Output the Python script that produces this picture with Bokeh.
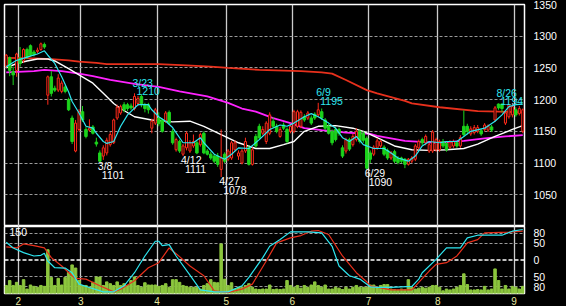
from bokeh.plotting import figure
from bokeh.layouts import column
from bokeh.models import ColumnDataSource, FixedTicker, Range1d, Span, Label
from bokeh.embed import file_html
from bokeh.resources import INLINE
from bokeh.core.properties import value

# ---------------- data ----------------
opens = [1253, 1266, 1244, 1246, 1265, 1262, 1279, 1285, 1275, 1276,
         1279, 1287, 1207, 1236, 1218, 1215, 1213, 1220, 1200, 1171,
         1119, 1153, 1181, 1153, 1152, 1157, 1133, 1116, 1111, 1116,
         1129, 1132, 1171, 1179, 1192, 1192, 1190, 1186, 1194, 1205,
         1192, 1192, 1155, 1163, 1171, 1168, 1166, 1180, 1150, 1121,
         1134, 1114, 1124, 1119, 1127, 1132, 1129, 1147, 1119, 1114,
         1111, 1111, 1090, 1114, 1106, 1108, 1121, 1111, 1100, 1119,
         1124, 1098, 1142, 1158, 1147, 1134, 1147, 1166, 1158, 1142,
         1160, 1153, 1150, 1150, 1158, 1158, 1173, 1171, 1171, 1177,
         1176, 1181, 1168, 1158, 1150, 1153, 1153, 1124, 1119, 1137,
         1129, 1137, 1150, 1147, 1139, 1116, 1114, 1124, 1127, 1125,
         1120, 1108, 1118, 1108, 1108, 1106, 1098, 1103, 1106, 1124,
         1137, 1132, 1119, 1119, 1121, 1121, 1134, 1131, 1125, 1127,
         1132, 1127, 1158, 1158, 1146, 1148, 1150, 1151, 1153, 1152,
         1157, 1168, 1193, 1193, 1163, 1173, 1176, 1184, 1178, 1150]
closes = [1270, 1246, 1239, 1272, 1257, 1279, 1267, 1270, 1271, 1278,
          1288, 1283, 1236, 1210, 1215, 1234, 1226, 1213, 1184, 1134,
          1163, 1181, 1168, 1142, 1155, 1147, 1130, 1103, 1124, 1136,
          1145, 1168, 1188, 1189, 1184, 1186, 1187, 1205, 1202, 1192,
          1186, 1184, 1166, 1184, 1162, 1150, 1179, 1163, 1132, 1137,
          1119, 1127, 1147, 1132, 1134, 1116, 1145, 1116, 1114, 1108,
          1103, 1098, 1108, 1103, 1119, 1132, 1132, 1116, 1119, 1134,
          1098, 1121, 1127, 1140, 1153, 1163, 1176, 1158, 1150, 1153,
          1155, 1134, 1158, 1181, 1181, 1180, 1168, 1179, 1163, 1171,
          1184, 1171, 1155, 1147, 1132, 1137, 1147, 1111, 1137, 1122,
          1142, 1150, 1134, 1136, 1092, 1106, 1125, 1135, 1134, 1114,
          1108, 1116, 1103, 1101, 1103, 1098, 1106, 1108, 1127, 1134,
          1132, 1142, 1129, 1149, 1137, 1134, 1127, 1121, 1133, 1134,
          1127, 1140, 1145, 1150, 1154, 1156, 1156, 1146, 1160, 1158,
          1152, 1187, 1187, 1186, 1179, 1192, 1189, 1176, 1186, 1184]
highs = [1272, 1268, 1252, 1274, 1283, 1281, 1282, 1287, 1278, 1282,
         1290, 1290, 1238, 1245, 1222, 1240, 1230, 1223, 1203, 1175,
         1168, 1185, 1190, 1157, 1169, 1160, 1140, 1120, 1128, 1140,
         1149, 1170, 1192, 1192, 1196, 1195, 1194, 1210, 1206, 1208,
         1195, 1195, 1170, 1187, 1180, 1170, 1182, 1183, 1154, 1140,
         1137, 1130, 1150, 1136, 1145, 1135, 1148, 1150, 1122, 1118,
         1114, 1116, 1153, 1117, 1122, 1135, 1136, 1120, 1122, 1140,
         1128, 1125, 1146, 1162, 1158, 1166, 1180, 1172, 1162, 1157,
         1164, 1156, 1162, 1184, 1184, 1183, 1177, 1182, 1175, 1180,
         1195, 1186, 1171, 1162, 1153, 1157, 1156, 1128, 1140, 1140,
         1146, 1155, 1153, 1150, 1142, 1120, 1128, 1139, 1137, 1128,
         1123, 1119, 1121, 1111, 1110, 1108, 1108, 1111, 1130, 1137,
         1140, 1145, 1132, 1152, 1140, 1137, 1138, 1134, 1136, 1137,
         1135, 1144, 1183, 1162, 1158, 1160, 1160, 1154, 1163, 1161,
         1160, 1190, 1194, 1194, 1182, 1193, 1194, 1188, 1190, 1186]
lows = [1250, 1237, 1223, 1236, 1252, 1258, 1264, 1268, 1268, 1273,
        1277, 1280, 1192, 1205, 1212, 1212, 1210, 1210, 1182, 1130,
        1117, 1150, 1165, 1139, 1150, 1145, 1126, 1101, 1105, 1112,
        1126, 1130, 1168, 1176, 1180, 1182, 1184, 1183, 1190, 1188,
        1180, 1178, 1147, 1160, 1158, 1148, 1163, 1160, 1129, 1118,
        1116, 1111, 1120, 1116, 1124, 1114, 1126, 1114, 1112, 1105,
        1100, 1094, 1078, 1100, 1103, 1105, 1118, 1105, 1098, 1116,
        1096, 1096, 1124, 1137, 1144, 1130, 1144, 1155, 1147, 1140,
        1152, 1131, 1147, 1147, 1155, 1155, 1165, 1168, 1160, 1168,
        1172, 1168, 1152, 1145, 1128, 1134, 1143, 1108, 1115, 1119,
        1126, 1134, 1131, 1132, 1090, 1100, 1111, 1121, 1124, 1111,
        1105, 1105, 1100, 1098, 1100, 1092, 1096, 1100, 1103, 1120,
        1128, 1128, 1116, 1116, 1118, 1118, 1124, 1118, 1122, 1124,
        1124, 1124, 1142, 1145, 1143, 1145, 1147, 1143, 1150, 1149,
        1149, 1165, 1184, 1180, 1160, 1170, 1172, 1173, 1175, 1147]
volume = [18, 29, 18, 25, 18, 31, 10, 19, 16, 14,
          18, 16, 98, 36, 18, 34, 19, 36, 47, 64,
          57, 29, 18, 18, 14, 25, 37, 37, 18, 26,
          22, 18, 26, 18, 22, 18, 29, 37, 18, 14,
          24, 19, 19, 19, 16, 18, 22, 14, 31, 31,
          25, 18, 16, 14, 14, 14, 10, 18, 22, 31,
          25, 24, 111, 32, 18, 24, 10, 14, 14, 18,
          22, 14, 10, 9, 10, 10, 19, 9, 10, 9,
          10, 29, 18, 14, 18, 12, 18, 14, 19, 26,
          18, 14, 19, 10, 10, 14, 12, 9, 14, 10,
          14, 18, 14, 14, 14, 19, 19, 14, 18, 20,
          20, 10, 9, 8, 10, 9, 31, 14, 10, 12,
          14, 12, 14, 18, 18, 14, 6, 10, 8, 10,
          14, 18, 44, 20, 8, 8, 9, 8, 16, 8,
          10, 55, 29, 10, 18, 10, 16, 14, 10, 16]

month_start = [4, 22, 44, 64, 83, 105, 125, 147]   # first trading day index of each month
month_labels = ["2", "3", "4", "5", "6", "7", "8", "9"]

price_grid = [1050, 1100, 1150, 1200, 1250, 1300]
price_ticks = [1050, 1100, 1150, 1200, 1250, 1300, 1350]
osc_ticks = [-80, -50, 0, 50, 80]
osc_labels = ["80", "50", "0", "50", "80"]
vol_max = 150

# moving averages
ma_short_idx = [0, 3, 6, 9, 11, 12, 14, 16, 18, 19, 21, 23, 25, 26, 28, 29, 31, 33, 35, 38,
                41, 42, 44, 46, 48, 51, 54, 56, 57, 60, 63, 65, 67, 70, 73, 76, 79, 81, 83, 86,
                88, 90, 93, 95, 97, 99, 101, 103, 106, 109, 111, 113, 116, 118, 120, 122, 125, 127, 130, 132,
                134, 138, 141, 143, 145, 147, 149]
ma_short_val = [1252, 1262, 1267, 1272, 1277, 1270, 1257, 1236, 1212, 1197, 1179, 1158, 1155, 1147, 1134, 1131, 1134, 1158, 1176, 1192,
                1192, 1184, 1173, 1166, 1156, 1132, 1132, 1140, 1132, 1114, 1106, 1114, 1124, 1123, 1137, 1153, 1160, 1158, 1163, 1173,
                1178, 1173, 1163, 1155, 1140, 1134, 1142, 1129, 1123, 1123, 1116, 1108, 1103, 1111, 1127, 1134, 1132, 1134, 1134, 1142,
                1150, 1155, 1166, 1176, 1189, 1192, 1193]
ma_mid_idx = [0, 3, 6, 9, 12, 14, 18, 21, 25, 28, 31, 33, 37, 42, 48, 53, 57, 62, 67, 72,
              76, 80, 83, 86, 90, 95, 100, 103, 107, 112, 117, 122, 127, 132, 136, 141, 146, 149]
ma_mid_val = [1250, 1257, 1261, 1264, 1264, 1261, 1249, 1239, 1226, 1210, 1194, 1186, 1173, 1168, 1165, 1166, 1158, 1145, 1132, 1123,
              1123, 1129, 1134, 1150, 1158, 1159, 1155, 1150, 1140, 1127, 1121, 1120, 1121, 1123, 1130, 1142, 1153, 1159]
ma_long_idx = [0, 8, 11, 16, 21, 25, 30, 37, 44, 50, 58, 64, 68, 72, 77, 82, 86, 91, 98, 105,
               107, 115, 124, 132, 138, 144, 149]
ma_long_val = [1243, 1245, 1247, 1245, 1241, 1237, 1231, 1225, 1220, 1213, 1205, 1195, 1186, 1181, 1171, 1163, 1155, 1152, 1148, 1146,
               1143, 1135, 1132, 1135, 1139, 1142, 1144]
ma_year_idx = [0, 8, 13, 18, 21, 26, 29, 44, 52, 59, 64, 73, 85, 91, 94, 98, 104, 107, 115, 117, 125, 136, 149]
ma_year_val = [1266, 1265, 1264, 1262, 1260, 1258, 1256, 1256, 1254, 1252, 1250, 1247, 1245, 1243, 1241, 1231, 1215, 1210, 1198, 1194,
               1188, 1182, 1180]

# oscillators (sampled)
rci_fast_idx = [0, 2, 5, 8, 10, 11, 12, 14, 17, 19, 21, 24, 28, 31, 34, 37, 40, 43, 44, 45,
                47, 49, 53, 56, 60, 64, 68, 70, 74, 76, 79, 82, 87, 91, 94, 96, 99, 102, 105, 107,
                111, 117, 119, 120, 124, 127, 131, 133, 136, 143, 146, 149]
rci_fast_val = [53, 36, 22, 12, 14, 20, -3, -23, -24, -38, -72, -82, -95, -95, -77, -38, 12, 56, 56, 43,
                46, 12, -45, -89, -95, -95, -77, -52, 7, 41, 61, 84, 84, 81, 41, -18, -47, -57, -80, -82,
                -82, -79, -57, -38, 2, 36, 36, 66, 74, 74, 86, 91]
rci_slow_idx = [0, 3, 5, 8, 11, 13, 16, 19, 20, 23, 27, 31, 33, 37, 41, 44, 47, 50, 53, 57,
                60, 64, 68, 71, 75, 78, 82, 85, 88, 90, 93, 97, 101, 104, 105, 111, 117, 119, 122, 124,
                127, 130, 133, 136, 138, 145, 149]
rci_slow_val = [39, 36, 48, 43, 36, 7, -18, -47, -55, -57, -77, -95, -87, -62, -23, -8, 36, 10, -18, -47,
                -92, -97, -87, -72, -3, 51, 66, 73, 86, 88, 76, 12, -38, -65, -77, -89, -89, -67, -33, -13,
                -8, 12, 51, 61, 81, 83, 86]

# marked highs and lows
peak_idx = [27, 37, 51, 62, 90, 104, 146]
peak_date = ["3/8", "3/23", "4/12", "4/27", "6/9", "6/29", "8/26"]
peak_value = [1101, 1210, 1111, 1078, 1195, 1090, 1194]
peak_kind = ["low", "high", "low", "low", "high", "low", "high"]

# ---------------- styling ----------------
N = len(closes)
FW, FH1, FH2 = 520, 222, 67
PMIN, PMAX = 1000, 1350
ppx = FW / N
ppu = FH1 / (PMAX - PMIN)

UP = "#ff2a1a"
DOWN = "#1cd41c"
C_SHORT = "#2ee6f0"
C_MID = "#ffffff"
C_LONG = "#ff22ff"
C_YEAR = "#e8301c"
VOLC = "#8cc63e"
GRID_V = "#cccccc"
GRID_H = "#9a9a9a"
FONT = "Liberation Sans"
FS = "10.5px"

xs = list(range(N))
is_up = [c >= o for o, c in zip(opens, closes)]
src = ColumnDataSource(dict(
    x=xs, high=highs, low=lows,
    top=[max(o, c) for o, c in zip(opens, closes)],
    bottom=[min(o, c) for o, c in zip(opens, closes)],
    color=[UP if u else DOWN for u in is_up],
    fill=["black" if u else DOWN for u in is_up],
    width=[0.58 if u else 0.72 for u in is_up],
))
month_pos = [m - 0.5 for m in month_start]

# ---------------- price panel ----------------
p1 = figure(frame_width=FW, frame_height=FH1,
            x_range=Range1d(-0.5, N - 0.5), y_range=Range1d(PMIN, PMAX),
            x_axis_location=None, y_axis_location="right",
            toolbar_location=None, output_backend="svg",
            background_fill_color="black", border_fill_color="black",
            min_border_left=4, min_border_right=42, min_border_top=4, min_border_bottom=0)
p1.outline_line_color = "white"
p1.outline_line_width = 1.5
p1.xgrid.ticker = FixedTicker(ticks=month_pos)
p1.xgrid.grid_line_color = GRID_V
p1.xgrid.grid_line_width = 1.3
p1.ygrid.ticker = FixedTicker(ticks=price_grid)
p1.ygrid.grid_line_color = GRID_H
p1.ygrid.grid_line_dash = "3 2"
p1.ygrid.grid_line_width = 1.2
ax = p1.yaxis[0]
ax.ticker = FixedTicker(ticks=price_ticks)
ax.axis_line_color = None
ax.major_tick_line_color = None
ax.minor_tick_line_color = None
ax.major_label_text_color = "white"
ax.major_label_text_font = FONT
ax.major_label_text_font_size = FS
ax.major_label_standoff = 3

p1.line(ma_year_idx, ma_year_val, color=C_YEAR, line_width=1.8)
p1.line(ma_long_idx, ma_long_val, color=C_LONG, line_width=1.8)
p1.line(ma_mid_idx, ma_mid_val, color=C_MID, line_width=1.4)

p1.segment(x0="x", y0="low", x1="x", y1="high", color="color", line_width=1, source=src)
p1.vbar(x="x", top="top", bottom="bottom", width="width", fill_color="fill",
        line_color="color", line_width=1, source=src)

p1.line(ma_short_idx, ma_short_val, color=C_SHORT, line_width=1.2)

# high / low annotations
ann_x, ann_y, ann_t, ann_c = [], [], [], []
for i, d, v, k in zip(peak_idx, peak_date, peak_value, peak_kind):
    xa = min(i, N - 8) - 2 / ppx
    if k == "high":
        yd, yn, col = v + 10.5 / ppu, v + 2 / ppu, C_SHORT
    else:
        yd, yn, col = v - 4 / ppu, v - 13 / ppu, "white"
    ann_x += [xa, xa + 4 / ppx]
    ann_y += [yd, yn]
    ann_t += [d, str(v)]
    ann_c += [col, col]
p1.text(x=ann_x, y=ann_y, text=ann_t, text_color=ann_c,
        text_font=value(FONT), text_font_size=FS,
        text_align="left", text_baseline="middle")

# ---------------- oscillator / volume panel ----------------
p2 = figure(frame_width=FW, frame_height=FH2,
            x_range=p1.x_range, y_range=Range1d(-100, 100),
            y_axis_location="right",
            toolbar_location=None, output_backend="svg",
            background_fill_color="black", border_fill_color="black",
            min_border_left=4, min_border_right=42, min_border_top=0, min_border_bottom=13)
p2.extra_y_ranges = {"vol": Range1d(0, vol_max)}
p2.outline_line_color = "white"
p2.outline_line_width = 1.5
p2.xgrid.ticker = FixedTicker(ticks=month_pos)
p2.xgrid.grid_line_color = GRID_V
p2.xgrid.grid_line_width = 1.3
p2.ygrid.ticker = FixedTicker(ticks=[t for t in osc_ticks if t != 0])
p2.ygrid.grid_line_color = GRID_H
p2.ygrid.grid_line_dash = "3 2"
p2.ygrid.grid_line_width = 1.2
p2.add_layout(Span(location=0, dimension="width", line_color="white",
                   line_dash="4 2", line_width=1.3, level="underlay"))

xa2 = p2.xaxis[0]
xa2.ticker = FixedTicker(ticks=month_pos)
xa2.major_label_overrides = {pos: lab for pos, lab in zip(month_pos, month_labels)}
xa2.axis_line_color = None
xa2.major_tick_line_color = None
xa2.minor_tick_line_color = None
xa2.major_label_text_color = "#e8e8a0"
xa2.major_label_text_font = FONT
xa2.major_label_text_font_size = "10px"
xa2.major_label_standoff = -3

ya2 = p2.yaxis[0]
ya2.ticker = FixedTicker(ticks=osc_ticks)
ya2.major_label_overrides = {t: lab for t, lab in zip(osc_ticks, osc_labels)}
ya2.axis_line_color = None
ya2.major_tick_line_color = None
ya2.minor_tick_line_color = None
ya2.major_label_text_color = "white"
ya2.major_label_text_font = FONT
ya2.major_label_text_font_size = FS
ya2.major_label_standoff = 3

p2.vbar(x=xs, top=volume, bottom=0, width=0.72, color=VOLC, y_range_name="vol")
p2.line(rci_slow_idx, rci_slow_val, color=C_YEAR, line_width=1.2)
p2.line(rci_fast_idx, rci_fast_val, color=C_SHORT, line_width=1.2)
p2.add_layout(Label(x=-0.5, y=vol_max, y_range_name="vol", x_offset=5, y_offset=-1,
                    text=str(vol_max), text_color="white", text_font=FONT,
                    text_font_size=FS, text_baseline="top"))

layout = column(p1, p2, spacing=0, background="black")
open("out.html", "w").write(file_html(layout, INLINE))
